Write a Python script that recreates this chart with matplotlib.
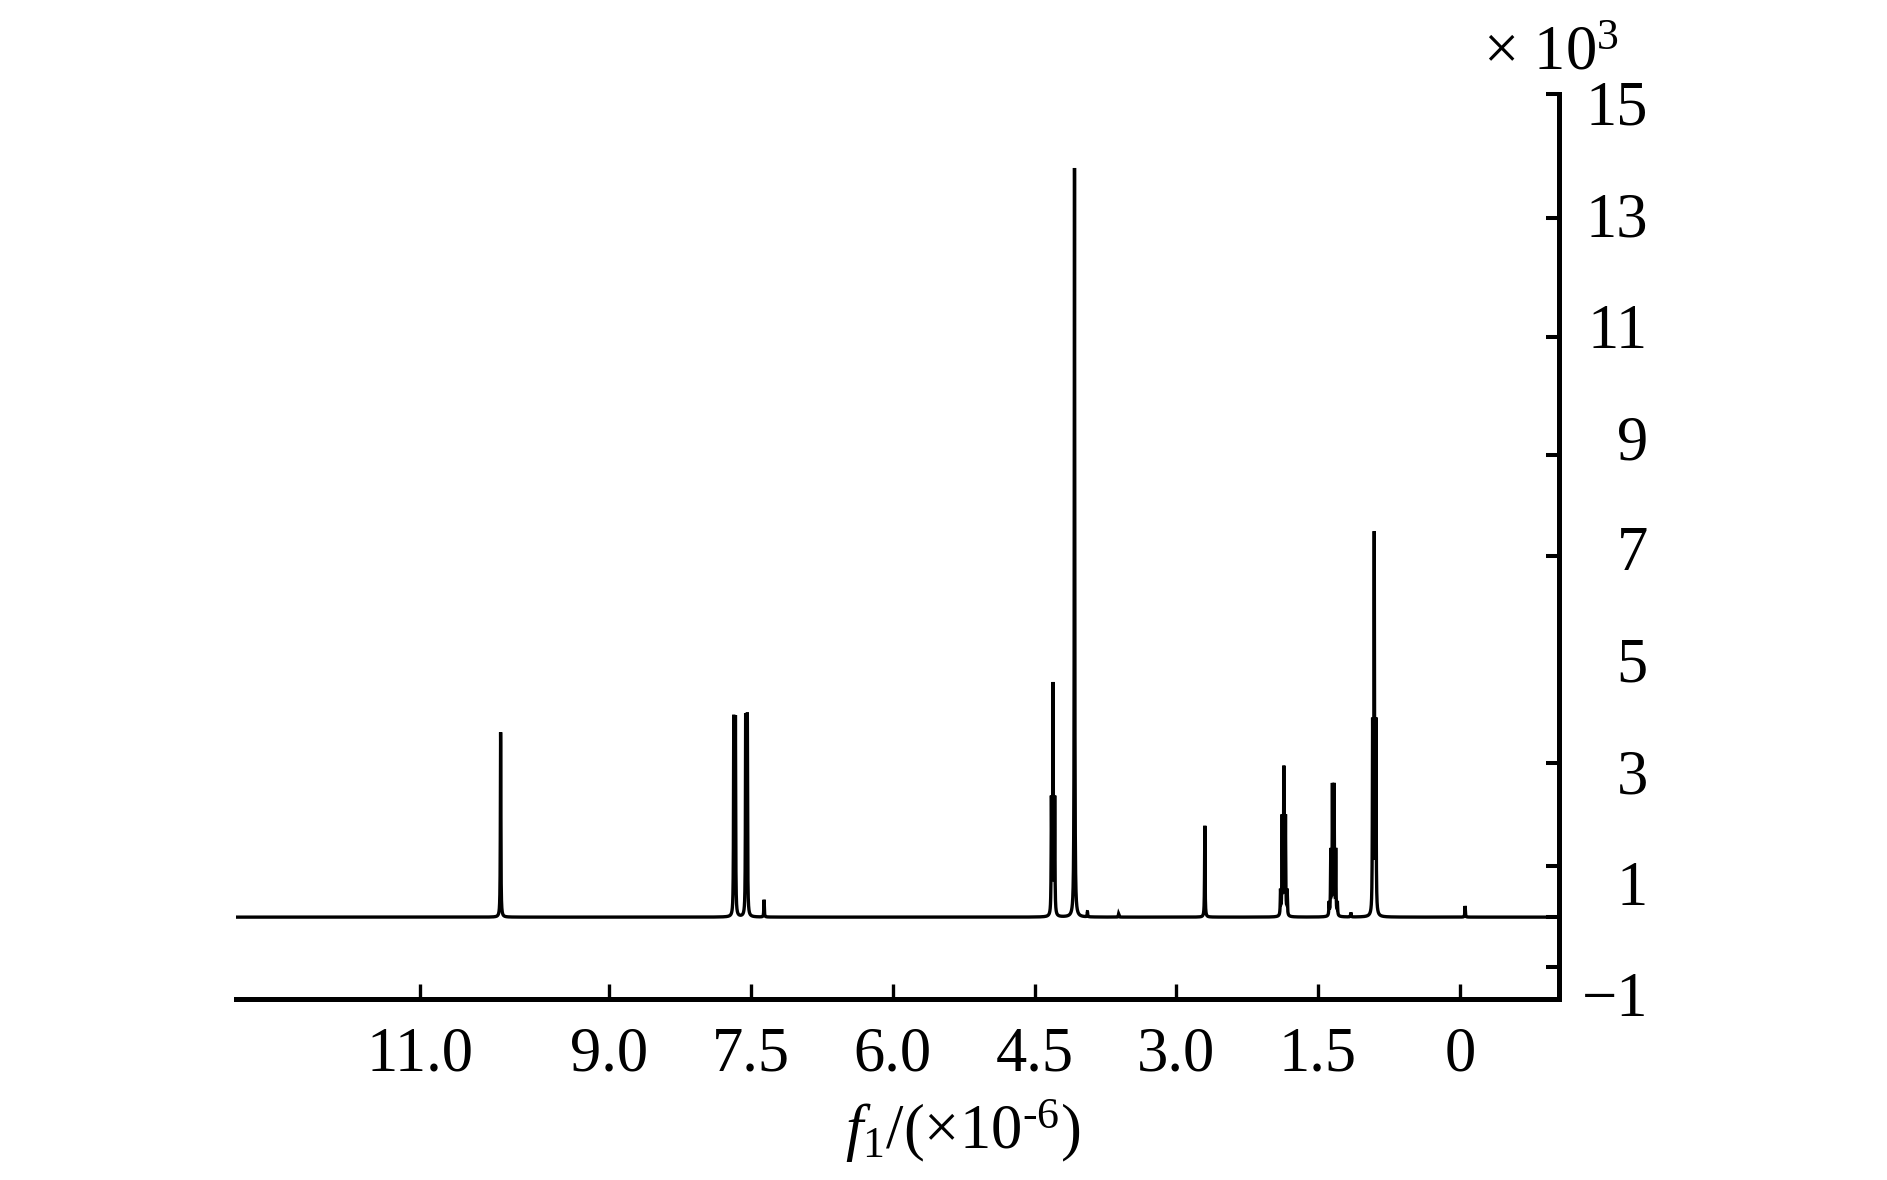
import numpy as np
import matplotlib
matplotlib.use("Agg")
import matplotlib.pyplot as plt
from matplotlib.ticker import FixedLocator, NullFormatter

# ---------------- data ----------------
# chemical shift (ppm), absolute peak top (x10^3), multiplicity (number of lines)
peak_shift = [10.15, 7.674, 7.548, 7.362, 4.304, 4.077, 3.94, 3.61,
              2.698, 1.862, 1.339, 1.153, 0.905, -0.056]
peak_top = [3.70, 4.01, 4.05, 0.69, 4.60, 13.83, 0.47, 0.44,
            2.02, 3.10, 2.79, 0.46, 7.31, 0.58]
peak_mult = [1, 2, 2, 1, 3, 1, 1, 1, 1, 5, 6, 1, 3, 1]
baseline_level = 0.38

x_ticks = [11.0, 9.0, 7.5, 6.0, 4.5, 3.0, 1.5, 0.0]
x_ticklabels = ["11.0", "9.0", "7.5", "6.0", "4.5", "3.0", "1.5", "0"]
y_labels = [15, 13, 11, 9, 7, 5, 3, 1, -1]
y_tick_marks = [15.16, 12.93, 10.79, 8.67, 6.86, 5.00, 3.15, 1.30, 0.38, -0.52]

# ---------------- spectrum construction ----------------
J = 0.0175     # coupling spacing, ppm
gamma = 0.003  # Lorentzian half width, ppm
ppm = np.linspace(13.0, -1.1, 40000)


def lor(x0):
    return gamma ** 2 / ((ppm - x0) ** 2 + gamma ** 2)


def pascal(n):
    row = [1.0]
    for _ in range(n - 1):
        row = [a + b for a, b in zip([0.0] + row, row + [0.0])]
    return row


spectrum = np.full_like(ppm, baseline_level)
for c, top, m in zip(peak_shift, peak_top, peak_mult):
    w = pascal(m)
    offs = (np.arange(m) - (m - 1) / 2.0) * J
    prof = sum(wi * lor(c + o) for wi, o in zip(w, offs))
    spectrum += prof / prof.max() * (top - baseline_level)

# ---------------- plotting ----------------
plt.rcParams["font.family"] = ["Liberation Serif", "DejaVu Serif"]
plt.rcParams["mathtext.fontset"] = "custom"
plt.rcParams["mathtext.rm"] = "Liberation Serif"
plt.rcParams["mathtext.it"] = "Liberation Serif:italic"

W, H = 1887, 1180
fig = plt.figure(figsize=(W / 100, H / 100), dpi=100)
L, R, T, B = 236, 1559, 94, 999
ax = fig.add_axes([L / W, 1 - B / H, (R - L) / W, (B - T) / H])

ax.plot(ppm, spectrum, color="black", lw=2.4, solid_joinstyle="miter")

ax.set_xlim(12.95, -1.05)
ax.set_ylim(-1.09, 15.16)

for s in ["top", "left"]:
    ax.spines[s].set_visible(False)
for s in ["bottom", "right"]:
    ax.spines[s].set_linewidth(3.6)
    ax.spines[s].set_capstyle("projecting")

fs = 45
ax.set_xticks(x_ticks)
ax.set_xticklabels(x_ticklabels, fontsize=fs)
ax.tick_params(axis="x", direction="in", length=11, width=2.4, pad=20)

ax.yaxis.tick_right()
ax.yaxis.set_major_locator(FixedLocator(y_labels))
ax.yaxis.set_minor_locator(FixedLocator(y_tick_marks))
ax.yaxis.set_minor_formatter(NullFormatter())
ax.set_yticklabels([("\u2212%d" % -v) if v < 0 else "%d" % v for v in y_labels],
                   fontsize=fs)
ax.tick_params(axis="y", which="major", length=0, pad=64,
               right=True, labelright=True, left=False, labelleft=False)
ax.tick_params(axis="y", which="minor", direction="in", length=9.5, width=2.9,
               right=True, left=False)
for t in ax.get_yticklabels():
    t.set_horizontalalignment("right")

fig.text(963 / W, 1 - 1149 / H, r"$f_1$/(×10$^{\text{-6}}$)", fontsize=fs,
         ha="center", va="baseline")
fig.text(1483 / W, 1 - 70 / H, r"× 10$^3$", fontsize=fs, ha="left",
         va="baseline")

fig.savefig("out.png", dpi=100, facecolor="white")
